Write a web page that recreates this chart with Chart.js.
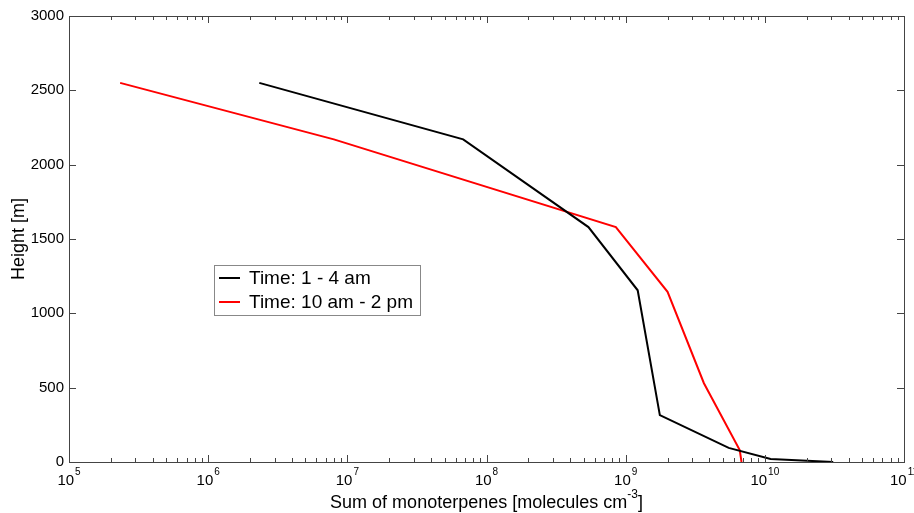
<!DOCTYPE html>
<html>
<head>
<meta charset="utf-8">
<script src="https://cdn.jsdelivr.net/npm/chart.js@4.4.1/dist/chart.umd.min.js"></script>
<style>
  body { margin: 0; background: #fff; }
  #wrap { width: 914px; height: 513px; }
</style>
</head>
<body>
<div id="wrap"><canvas id="profileChart" width="914" height="513"></canvas></div>
<script>
// profiles (x = molecules cm^-3, y = height in m)
const nightConc = [2.33e6, 6.8e7, 5.4e8, 1.22e9, 1.76e9, 5.5e9, 1.1e10, 3.1e10];
const nightHeight = [2550, 2170, 1580, 1155, 315, 95, 20, 0];
const dayConc = [2.33e5, 8.0e6, 8.5e8, 2.0e9, 3.65e9, 6.6e9, 6.8e9];
const dayHeight = [2550, 2170, 1580, 1145, 530, 80, 0];
const seriesLabels = ['Time: 1 - 4 am', 'Time: 10 am - 2 pm'];
const seriesColors = ['#000000', '#ff0000'];
const xTickExps = [5, 6, 7, 8, 9, 10, 11];
const yTicks = [0, 500, 1000, 1500, 2000, 2500, 3000];

const FONT = '"Liberation Sans", Arial, Helvetica, sans-serif';

function toPoints(xs, ys) {
  return xs.map((v, i) => ({ x: v, y: ys[i] }));
}

// draws the matlab style box, ticks, labels and legend
const matlabAxes = {
  id: 'matlabAxes',
  afterDraw(chart) {
    const ctx = chart.ctx;
    const a = chart.chartArea;
    const sx = chart.scales.x;
    const sy = chart.scales.y;
    ctx.save();
    ctx.strokeStyle = '#444';
    ctx.lineWidth = 1;
    ctx.strokeRect(a.left + 0.5, a.top + 0.5, a.right - a.left, a.bottom - a.top);

    ctx.beginPath();
    xTickExps.forEach(e => {
      const px = Math.round(sx.getPixelForValue(Math.pow(10, e))) + 0.5;
      ctx.moveTo(px, a.bottom); ctx.lineTo(px, a.bottom - 7);
      ctx.moveTo(px, a.top); ctx.lineTo(px, a.top + 7);
      if (e < xTickExps[xTickExps.length - 1]) {
        for (let m = 2; m <= 9; m++) {
          const mx = Math.round(sx.getPixelForValue(m * Math.pow(10, e))) + 0.5;
          ctx.moveTo(mx, a.bottom); ctx.lineTo(mx, a.bottom - 4);
          ctx.moveTo(mx, a.top); ctx.lineTo(mx, a.top + 4);
        }
      }
    });
    yTicks.forEach(t => {
      const py = Math.round(sy.getPixelForValue(t)) + 0.5;
      ctx.moveTo(a.left, py); ctx.lineTo(a.left + 7, py);
      ctx.moveTo(a.right, py); ctx.lineTo(a.right - 7, py);
    });
    ctx.stroke();

    ctx.fillStyle = '#000';
    // y tick labels
    ctx.font = '15px ' + FONT;
    ctx.textAlign = 'right';
    ctx.textBaseline = 'middle';
    yTicks.forEach(t => {
      ctx.fillText(String(t), a.left - 5, sy.getPixelForValue(t));
    });

    // x tick labels 10^e
    ctx.textAlign = 'left';
    ctx.textBaseline = 'alphabetic';
    xTickExps.forEach(e => {
      const px = sx.getPixelForValue(Math.pow(10, e));
      ctx.font = '15px ' + FONT;
      const w1 = ctx.measureText('10').width;
      ctx.font = '10px ' + FONT;
      const w2 = ctx.measureText(String(e)).width;
      const start = px - (w1 + w2 + 1) / 2;
      ctx.font = '15px ' + FONT;
      ctx.fillText('10', start, 485);
      ctx.font = '10px ' + FONT;
      ctx.fillText(String(e), start + w1 + 1, 475);
    });

    // axis titles
    ctx.font = '18px ' + FONT;
    const t1 = 'Sum of monoterpenes [molecules cm';
    const t2 = '-3';
    const t3 = ']';
    const w1 = ctx.measureText(t1).width;
    const w3 = ctx.measureText(t3).width;
    ctx.font = '12px ' + FONT;
    const w2 = ctx.measureText(t2).width;
    let x0 = (a.left + a.right) / 2 - (w1 + w2 + w3) / 2;
    ctx.font = '18px ' + FONT;
    ctx.fillText(t1, x0, 508);
    ctx.font = '12px ' + FONT;
    ctx.fillText(t2, x0 + w1, 498);
    ctx.font = '18px ' + FONT;
    ctx.fillText(t3, x0 + w1 + w2, 508);

    ctx.save();
    ctx.translate(19, (a.top + a.bottom) / 2);
    ctx.rotate(-Math.PI / 2);
    ctx.textAlign = 'center';
    ctx.textBaseline = 'middle';
    ctx.fillText('Height [m]', 0, 0);
    ctx.restore();

    // legend box
    ctx.fillStyle = '#fff';
    ctx.fillRect(214, 265, 206, 50);
    ctx.strokeStyle = '#888';
    ctx.strokeRect(214.5, 265.5, 206, 50);
    ctx.font = '19px ' + FONT;
    ctx.textAlign = 'left';
    ctx.textBaseline = 'middle';
    chart.data.datasets.forEach((ds, i) => {
      const ly = 278 + i * 24;
      ctx.strokeStyle = ds.borderColor;
      ctx.lineWidth = 2;
      ctx.beginPath();
      ctx.moveTo(219, ly); ctx.lineTo(240, ly);
      ctx.stroke();
      ctx.fillStyle = '#000';
      ctx.fillText(ds.label, 249, ly + 1);
    });
    ctx.restore();
  }
};

new Chart(document.getElementById('profileChart'), {
  type: 'line',
  data: {
    datasets: [{
      label: seriesLabels[0],
      data: toPoints(nightConc, nightHeight),
      borderColor: seriesColors[0],
      borderWidth: 2,
      pointRadius: 0,
      tension: 0
    }, {
      label: seriesLabels[1],
      data: toPoints(dayConc, dayHeight),
      borderColor: seriesColors[1],
      borderWidth: 2,
      pointRadius: 0,
      tension: 0
    }]
  },
  options: {
    responsive: false,
    animation: false,
    devicePixelRatio: 1,
    layout: { padding: { left: 69, right: 10, top: 16, bottom: 51 } },
    plugins: { legend: { display: false }, tooltip: { enabled: false } },
    scales: {
      x: { type: 'logarithmic', min: 1e5, max: 1e11, display: false },
      y: { type: 'linear', min: 0, max: 3000, display: false }
    }
  },
  plugins: [matlabAxes]
});
</script>
</body>
</html>
